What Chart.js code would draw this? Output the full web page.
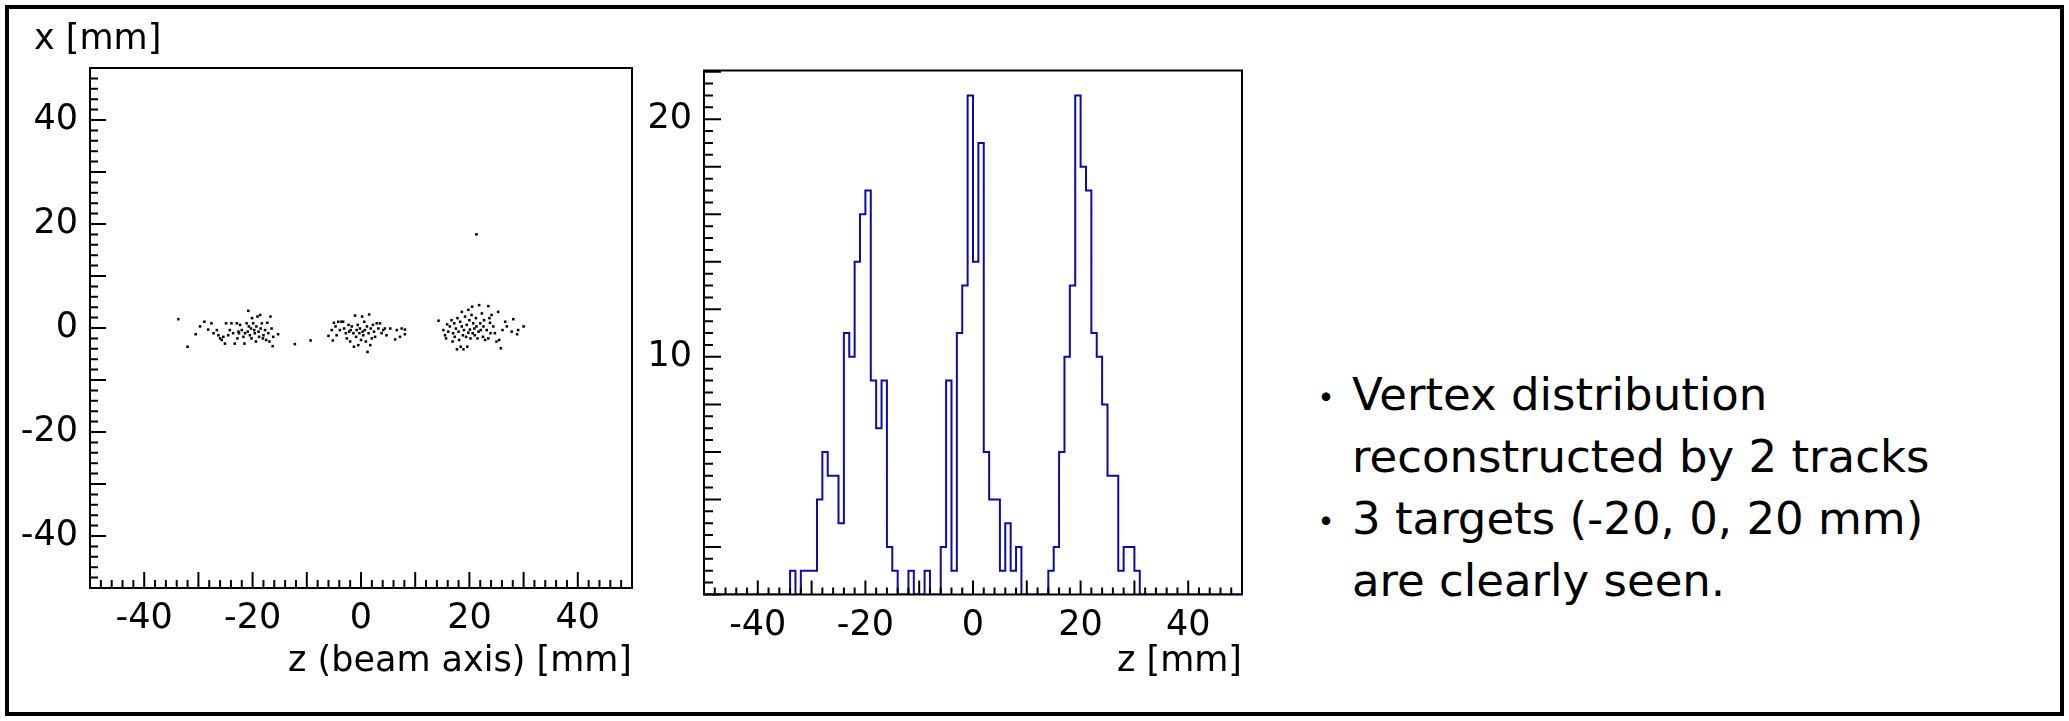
<!DOCTYPE html>
<html>
<head>
<meta charset="utf-8">
<script src="https://cdn.jsdelivr.net/npm/chart.js@4.4.0/dist/chart.umd.min.js"></script>
<style>
  html, body { margin: 0; padding: 0; background: #fff; }
  #page { position: relative; width: 2069px; height: 721px; overflow: hidden; }
  #frame { position: absolute; left: 5px; top: 5px; width: 2059px; height: 711px; border: 4px solid #000; box-sizing: border-box; }
  .box { position: absolute; }
  #scatterBox { left: 0; top: 0; width: 660px; height: 721px; }
  #histBox { left: 640px; top: 0; width: 640px; height: 721px; }
  #ylabel { position: absolute; left: 34px; top: 16px; font: 35px "DejaVu Sans"; line-height: 42px; color: #000; }
  #notes { position: absolute; left: 1306px; top: 364px; font: 45px "DejaVu Sans", "Noto Sans CJK JP"; line-height: 62px; color: #000; white-space: nowrap; }
  .item { position: relative; padding-left: 46px; }
  .item .dot { position: absolute; left: 0; top: 0; font-family: "Noto Sans CJK JP"; font-size: 40px; }
</style>
</head>
<body>
<div id="page">
  <div id="frame"></div>
  <div class="box" id="scatterBox"><canvas id="vertexScatter"></canvas></div>
  <div class="box" id="histBox"><canvas id="vertexHist"></canvas></div>
  <div id="ylabel">x [mm]</div>
  <div id="notes"></div>
</div>
<script>
// vertex points [z, x] in mm, one list per target
var vtxTargetM20 = [
  [-33.7, 1.7], [-32.0, -3.6], [-30.5, -1.2], [-29.7, 0.3], [-28.9, 1.2], [-28.2, -0.3],
  [-27.6, 0.9], [-27.2, -1.0], [-26.6, -0.4], [-26.3, -1.4], [-26.0, -2.0], [-25.7, -2.3],
  [-25.4, -1.7], [-25.1, -3.0], [-24.9, 0.9], [-24.5, -1.4], [-24.2, -0.4], [-23.9, 0.9],
  [-23.6, -1.0], [-23.3, -3.0], [-22.9, 0.9], [-22.8, -2.0], [-22.6, -0.7], [-22.5, -1.0],
  [-22.3, 0.6], [-22.0, -0.4], [-21.7, -1.7], [-21.5, -3.0], [-21.4, -1.0], [-21.1, 0.9],
  [-20.9, -0.7], [-20.8, 3.3], [-20.7, 0.3], [-20.5, -1.4], [-20.3, -0.1], [-20.2, -2.0],
  [-20.1, 1.9], [-19.9, 0.9], [-19.7, -0.4], [-19.6, -1.0], [-19.4, -2.6], [-19.3, 0.3],
  [-19.1, 2.2], [-18.9, -0.7], [-18.8, -1.7], [-18.6, 2.5], [-18.5, -0.1], [-18.3, 0.9],
  [-18.1, -2.0], [-18.0, -1.4], [-17.7, -0.4], [-17.5, -2.3], [-17.3, 1.0], [-17.1, -1.0],
  [-16.9, -2.6], [-16.7, 2.2], [-16.5, -0.1], [-16.3, -3.5], [-16.2, -1.7], [-15.3, -1.2]
];
var vtxTarget0 = [
  [-12.2, -3.1], [-9.3, -2.4], [-6.0, -1.5], [-5.4, -0.4], [-5.2, -2.4], [-5.0, 1.0],
  [-4.7, 0.3], [-4.5, -1.4], [-4.2, 1.2], [-3.9, -0.4], [-3.6, 1.2], [-3.3, 1.2],
  [-3.1, -0.1], [-2.8, -1.0], [-2.6, -2.0], [-2.3, 0.6], [-2.2, -0.7], [-2.0, -2.6],
  [-1.9, -0.4], [-1.7, 0.3], [-1.4, -1.0], [-1.3, -3.6], [-1.1, 2.4], [-0.9, -1.7],
  [-0.8, -0.4], [-0.6, 0.6], [-0.5, -3.3], [-0.3, -1.0], [-0.2, -0.1], [0.0, -2.3],
  [0.2, 2.2], [0.3, -0.7], [0.4, -1.4], [0.6, 1.2], [0.7, -0.4], [0.9, -2.6],
  [1.1, 0.3], [1.2, -4.6], [1.4, -1.0], [1.5, 2.6], [1.7, -3.3], [1.8, -0.1],
  [2.0, -2.0], [2.2, 0.6], [2.4, -0.7], [2.6, -1.7], [2.9, 0.9], [3.2, -0.1],
  [3.5, 0.9], [3.8, -1.0], [4.1, -0.4], [4.4, -0.1], [4.7, -1.4], [5.4, -0.1],
  [6.3, -2.2], [6.6, -0.4], [7.2, -1.7], [7.5, -0.1], [8.1, -1.2], [8.1, -0.3]
];
var vtxTargetP20 = [
  [14.3, 1.4], [15.2, -0.4], [15.5, -1.4], [15.7, -2.0], [15.9, 0.7], [16.1, -0.7],
  [16.4, 0.3], [16.7, 1.5], [16.9, -2.6], [17.0, -1.0], [17.2, 0.9], [17.3, -1.7],
  [17.5, -0.1], [17.7, -4.1], [17.8, 1.9], [18.0, -0.7], [18.1, -2.3], [18.3, 1.2],
  [18.4, -3.6], [18.6, 3.1], [18.6, 0.3], [18.8, -1.4], [18.9, -4.1], [19.0, -0.4],
  [19.2, 2.2], [19.4, -1.7], [19.5, 0.6], [19.6, -3.6], [19.8, 3.5], [19.8, -0.9],
  [20.0, 1.5], [20.1, -0.3], [20.2, -2.0], [20.4, 2.5], [20.5, 4.1], [20.6, -1.0],
  [20.7, 0.9], [20.9, -0.1], [21.0, -1.4], [21.2, 1.9], [21.3, 0.3], [21.5, -2.0],
  [21.7, -0.7], [21.8, 4.4], [22.0, 0.9], [22.1, -0.4], [22.3, 2.8], [22.5, -1.7],
  [22.6, 0.3], [22.7, 1.5], [22.9, -2.3], [23.2, -0.4], [23.5, -2.0], [23.5, 4.2],
  [23.7, 1.9], [23.8, 1.0], [23.9, -1.0], [24.1, 2.5], [24.4, 0.3], [24.7, -1.0],
  [25.0, -2.6], [25.3, 3.1], [25.5, -2.3], [25.8, -3.9], [26.1, -0.4], [26.6, 1.2],
  [26.9, 0.3], [27.8, -0.7], [28.1, 1.7], [28.8, -1.2], [29.0, -0.4], [30.0, 0.3]
];
var vtxOutliers = [[21.3, 18.0]];

// z histogram, 1 mm bins from -50 to 50 (counts per bin)
var zBinEdgeLow = -50;
var zBinWidth = 1;
var zCounts = [
  0, 0, 0, 0, 0, 0, 0, 0, 0, 0,
  0, 0, 0, 0, 0, 0, 1, 0, 1, 1,
  1, 4, 6, 5, 5, 3, 11, 10, 14, 16,
  17, 9, 7, 9, 2, 1, 0, 0, 1, 0,
  0, 1, 0, 0, 2, 9, 1, 11, 13, 21,
  14, 19, 6, 4, 4, 1, 3, 1, 2, 0,
  0, 0, 0, 0, 1, 2, 6, 10, 13, 21,
  18, 17, 11, 10, 8, 5, 5, 1, 2, 2,
  1, 0, 0, 0, 0, 0, 0, 0, 0, 0,
  0, 0, 0, 0, 0, 0, 0, 0, 0, 0
];

// tick labels
var zTickLabels = [-40, -20, 0, 20, 40];
var xTickLabels = [-40, -20, 0, 20, 40];
var countTickLabels = [10, 20];

var notes = [
  "Vertex distribution\nreconstructed by 2 tracks",
  "3 targets (-20, 0, 20 mm)\nare clearly seen."
];

var axisFont = { family: "DejaVu Sans", size: 35 };

// ROOT style frame: box + inward ticks
var rootFrame = {
  id: 'rootFrame',
  afterDatasetsDraw: function(chart, args, o) {
    var ctx = chart.ctx, a = chart.chartArea;
    var sx = chart.scales.x, sy = chart.scales.y;
    ctx.save();
    ctx.strokeStyle = '#000';
    ctx.lineWidth = 2;
    ctx.beginPath();
    var i, v, p, len;
    var nx = Math.round((sx.max - sx.min) / o.xMinor);
    for (i = 0; i <= nx; i++) {
      v = sx.min + i * o.xMinor;
      p = sx.getPixelForValue(v);
      len = Math.abs(v / o.xMajor - Math.round(v / o.xMajor)) < 1e-6 ? o.xLong : o.xShort;
      ctx.moveTo(p, a.bottom);
      ctx.lineTo(p, a.bottom - len);
    }
    var ny = Math.floor((sy.max - sy.min) / o.yMinor + 1e-6);
    for (i = 0; i <= ny; i++) {
      v = sy.min + i * o.yMinor;
      p = sy.getPixelForValue(v);
      len = Math.abs(v / o.yMajor - Math.round(v / o.yMajor)) < 1e-6 ? o.yLong : o.yShort;
      ctx.moveTo(a.left, p);
      ctx.lineTo(a.left + len, p);
    }
    ctx.stroke();
    ctx.strokeRect(a.left, a.top, a.right - a.left, a.bottom - a.top);
    ctx.restore();
  }
};

function fixedTicks(list) {
  return function(scale) {
    scale.ticks = list.map(function(v) { return { value: v }; });
  };
}

var scatterPoints = vtxTargetM20.concat(vtxTarget0, vtxTargetP20, vtxOutliers).map(function(p) {
  return { x: p[0], y: p[1] };
});

new Chart(document.getElementById("vertexScatter"), {
  type: 'scatter',
  data: {
    datasets: [{
      data: scatterPoints,
      pointStyle: 'rect',
      pointRadius: 1.8,
      borderWidth: 0,
      backgroundColor: '#000'
    }]
  },
  options: {
    responsive: true,
    maintainAspectRatio: false,
    devicePixelRatio: 1,
    animation: false,
    layout: { padding: { top: 68, right: 28, bottom: 0, left: 0 } },
    plugins: {
      legend: { display: false },
      tooltip: { enabled: false },
      rootFrame: { xMinor: 2, xMajor: 10, xLong: 16, xShort: 8, yMinor: 2, yMajor: 10, yLong: 16, yShort: 8 }
    },
    scales: {
      x: {
        type: 'linear', min: -50, max: 50,
        grid: { display: false, drawTicks: false },
        border: { display: false },
        ticks: { font: axisFont, color: '#000', padding: 10, maxRotation: 0, autoSkip: false },
        afterBuildTicks: fixedTicks(zTickLabels),
        afterFit: function(s) { s.height = 133; },
        title: { display: true, text: 'z (beam axis) [mm]', align: 'end', font: axisFont, color: '#000', padding: { top: 0, bottom: 38 } }
      },
      y: {
        type: 'linear', min: -50, max: 50,
        grid: { display: false, drawTicks: false },
        border: { display: false },
        ticks: { font: axisFont, color: '#000', padding: 12, autoSkip: false },
        afterBuildTicks: fixedTicks(xTickLabels),
        afterFit: function(s) { s.width = 90; }
      }
    }
  },
  plugins: [rootFrame]
});

// step outline: each bin's low edge carries its count, plus the closing edge
var histPoints = zCounts.map(function(c, i) {
  return { x: zBinEdgeLow + i * zBinWidth, y: c };
});
histPoints.push({ x: zBinEdgeLow + zCounts.length * zBinWidth, y: zCounts[zCounts.length - 1] });

new Chart(document.getElementById("vertexHist"), {
  type: 'line',
  data: {
    datasets: [{
      data: histPoints,
      stepped: 'before',
      borderColor: '#0c0ca2',
      borderWidth: 2,
      pointRadius: 0,
      fill: false
    }]
  },
  options: {
    responsive: true,
    maintainAspectRatio: false,
    devicePixelRatio: 1,
    animation: false,
    layout: { padding: { top: 70.5, right: 38, bottom: 0, left: 0 } },
    plugins: {
      legend: { display: false },
      tooltip: { enabled: false },
      rootFrame: { xMinor: 2, xMajor: 10, xLong: 14, xShort: 7, yMinor: 0.5, yMajor: 2, yLong: 17, yShort: 9 }
    },
    scales: {
      x: {
        type: 'linear', min: -50, max: 50,
        grid: { display: false, drawTicks: false },
        border: { display: false },
        ticks: { font: axisFont, color: '#000', padding: 10, maxRotation: 0, autoSkip: false },
        afterBuildTicks: fixedTicks(zTickLabels),
        afterFit: function(s) { s.height = 126.5; },
        title: { display: true, text: 'z [mm]', align: 'end', font: axisFont, color: '#000', padding: { top: 0, bottom: 38 } }
      },
      y: {
        type: 'linear', min: 0, max: 22.05,
        grid: { display: false, drawTicks: false },
        border: { display: false },
        ticks: { font: axisFont, color: '#000', padding: 12, autoSkip: false },
        afterBuildTicks: fixedTicks(countTickLabels),
        afterFit: function(s) { s.width = 64; }
      }
    }
  },
  plugins: [rootFrame]
});

// bullet notes on the right
var notesEl = document.getElementById('notes');
notes.forEach(function(t) {
  var item = document.createElement('div');
  item.className = 'item';
  var dot = document.createElement('span');
  dot.className = 'dot';
  dot.textContent = '・';
  item.appendChild(dot);
  t.split('\n').forEach(function(line, k) {
    if (k) item.appendChild(document.createElement('br'));
    item.appendChild(document.createTextNode(line));
  });
  notesEl.appendChild(item);
});
</script>
</body>
</html>
